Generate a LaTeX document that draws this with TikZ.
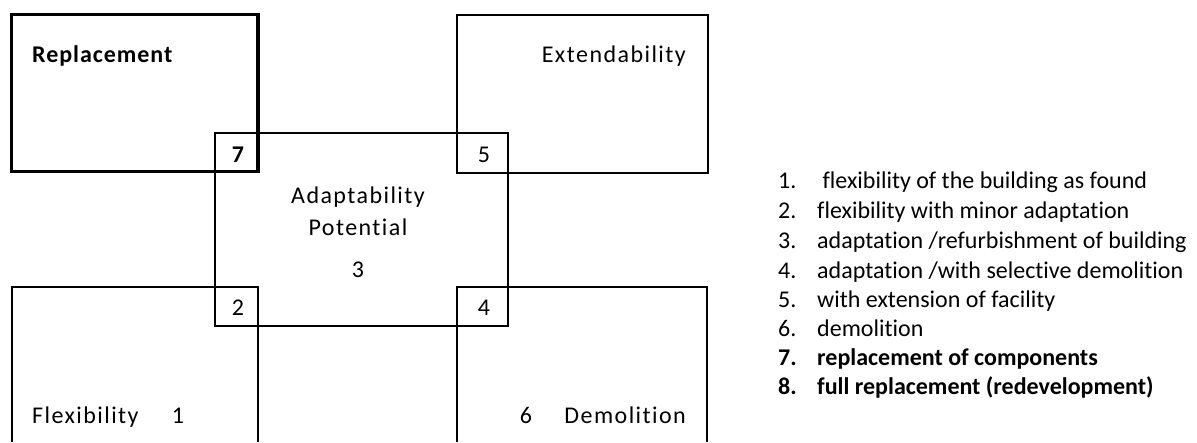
\documentclass[tikz,border=0pt]{standalone}
\usepackage{fontspec}
\setmainfont{Carlito}[RawFeature=-liga]
\begin{document}
\begin{tikzpicture}[x=1pt,y=-1pt,
  thinbox/.style={draw=black,line width=2pt},
  thickbox/.style={draw=black,line width=3.5pt},
  lbl/.style={inner sep=0pt,font=\fontsize{24}{28}\selectfont\addfontfeatures{LetterSpace=6}},
  blbl/.style={inner sep=0pt,font=\fontsize{24}{28}\selectfont\bfseries\addfontfeatures{LetterSpace=4}},
  item/.style={inner sep=0pt,anchor=base west,font=\fontsize{24}{28}\selectfont},
  bitem/.style={inner sep=0pt,anchor=base west,font=\fontsize{24}{28}\selectfont\bfseries}]
\useasboundingbox (0,0) rectangle (1197,442);
% boxes
\draw[thinbox] (457,15) rectangle (708,173);
\draw[thinbox] (215,133) rectangle (507.5,326);
\draw[thinbox] (12,442) -- (12,287) -- (258,287) -- (258,442);
\draw[thinbox] (457,442) -- (457,287) -- (707,287) -- (707,442);
\draw[thickbox] (11.5,14.5) rectangle (258,171.5);
% labels
\node[blbl,anchor=base west] (rep) at (32,62) {Replacement};
\node[lbl,anchor=base east] (ext) at (686,62) {Extendability};
\node[lbl,anchor=base] (ada) at (358,203) {Adaptability};
\node[lbl,anchor=base] (pot) at (358,235) {Potential};
\node[lbl,anchor=base] (three) at (358,277) {3};
\node[blbl,anchor=base] (seven) at (238,162) {7};
\node[lbl,anchor=base] (five) at (484,162) {5};
\node[lbl,anchor=base] (two) at (238,315) {2};
\node[lbl,anchor=base] (four) at (484,315) {4};
\node[lbl,anchor=base west] (flex) at (32,423) {Flexibility};
\node[lbl,anchor=base] (one) at (178,423) {1};
\node[lbl,anchor=base] (six) at (526,423) {6};
\node[lbl,anchor=base east] (dem) at (686,423) {Demolition};
% list
\foreach \n/\t/\y in {1/{\ flexibility of the building as found}/188,
  2/{flexibility with minor adaptation}/218,
  3/{adaptation /refurbishment of building}/248,
  4/{adaptation /with selective demolition}/278,
  5/{with extension of facility}/307,
  6/{demolition}/336}{
  \node[item] (n\n) at (778,\y) {\n.};
  \node[item] (t\n) at (817,\y) {\t};
}
\node[bitem] (n7) at (778,365) {7.};
\node[bitem] (t7) at (817,365) {replacement of components};
\node[bitem] (n8) at (778,394) {8.};
\node[bitem] (t8) at (817,394) {full replacement (redevelopment)};
\end{tikzpicture}
\end{document}
